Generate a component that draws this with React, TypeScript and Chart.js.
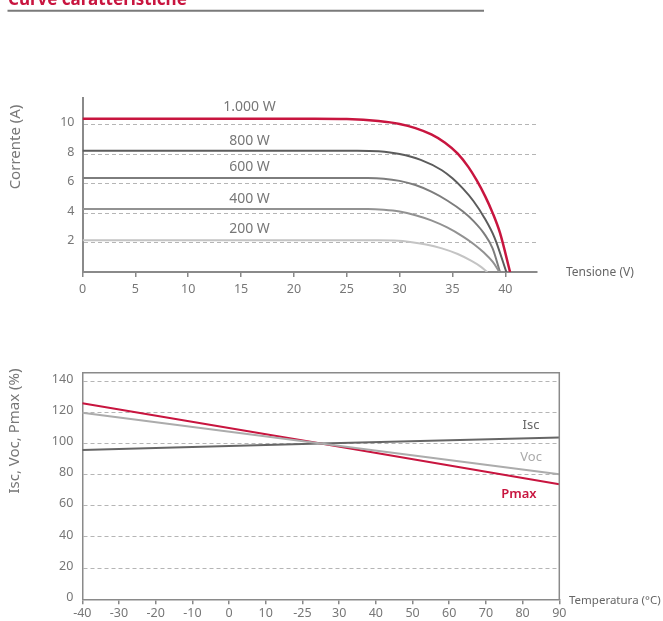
import React, { useEffect, useRef } from "react";
import { Chart, registerables } from "chart.js";

Chart.register(...registerables);

const FONT = "'Noto Sans', sans-serif";
const RED = "#c8153f";

// ---------- Top chart: I-V curves ----------
const ivNames = ["1.000 W", "800 W", "600 W", "400 W", "200 W"];

const v1000 = [0, 22, 25, 28, 30, 31.5, 33, 34.3, 35.5, 36.5, 37.3, 38.1, 38.8, 39.5, 40.45];
const i1000 = [10.39, 10.39, 10.37, 10.24, 10.04, 9.76, 9.33, 8.77, 8.03, 7.13, 6.21, 5.13, 4.01, 2.65, 0];

const v800 = [0, 22, 26, 28, 30, 32, 34, 35, 36, 37, 38, 39, 40.1];
const i800 = [8.23, 8.23, 8.23, 8.19, 8.0, 7.6, 6.9, 6.35, 5.65, 4.8, 3.7, 2.3, 0];

const v600 = [0, 22, 27, 28.5, 30, 31.5, 33, 34.5, 36, 37, 38, 38.8, 39.5];
const i600 = [6.37, 6.37, 6.37, 6.33, 6.18, 5.9, 5.45, 4.85, 4.1, 3.45, 2.6, 1.6, 0];

const v400 = [0, 22, 27, 28.5, 30, 31.5, 33, 34.5, 36, 37, 38, 38.8, 39.45];
const i400 = [4.27, 4.27, 4.27, 4.22, 4.1, 3.85, 3.5, 3.02, 2.4, 1.9, 1.3, 0.7, 0];

const v200 = [0, 22, 28, 29.5, 31, 32.5, 34, 35.5, 36.8, 37.6, 38.3];
const i200 = [2.16, 2.16, 2.16, 2.13, 2.04, 1.87, 1.6, 1.22, 0.75, 0.4, 0];

const ivXTicks = [0, 5, 10, 15, 20, 25, 30, 35, 40];
const ivYTicks = [2, 4, 6, 8, 10];

const ivLabelX = [15.8, 15.8, 15.8, 15.8, 15.8];
const ivLabelY = [11.16, 8.91, 7.14, 4.97, 2.93];

// ---------- Bottom chart: temperature ----------
const tempX = [-40, 25, 90];
const iscPct = [95.8, 100, 103.9];
const vocPct = [119.7, 100, 80.2];
const pmaxPct = [125.8, 100, 73.8];

const tempTicks = [-40, -30, -20, -10, 0, 10, 20, 30, 40, 50, 60, 70, 80, 90];
const tempTickLabels = ["-40", "-30", "-20", "-10", "0", "10", "-25", "30", "40", "50", "60", "70", "80", "90"];
const pctTicks = [0, 20, 40, 60, 80, 100, 120, 140];

const tempNames = ["Isc", "Voc", "Pmax"];
const tempLabelX = [82.3, 82.3, 79.0];
const tempLabelY = [111.8, 91.3, 67.6];

const pts = (xs: number[], ys: number[]) => xs.map((x, i) => ({ x, y: ys[i] }));

const topDecor = {
  id: "topDecor",
  afterDraw(chart: any) {
    const { ctx, scales } = chart;
    const x = scales.x;
    const y = scales.y;
    ctx.save();
    // heading (mostly cut off at the top)
    ctx.fillStyle = RED;
    ctx.font = `bold 17px ${FONT}`;
    ctx.textAlign = "left";
    ctx.textBaseline = "alphabetic";
    ctx.fillText("Curve caratteristiche", 8, 4.5);
    ctx.strokeStyle = "#7a7a7a";
    ctx.lineWidth = 2;
    ctx.beginPath();
    ctx.moveTo(7.5, 10.7);
    ctx.lineTo(484, 10.7);
    ctx.stroke();
    // series labels
    ctx.fillStyle = "#777";
    ctx.font = `14px ${FONT}`;
    ctx.textAlign = "center";
    ctx.textBaseline = "middle";
    ivNames.forEach((n, i) => {
      ctx.fillText(n, x.getPixelForValue(ivLabelX[i]), y.getPixelForValue(ivLabelY[i]));
    });
    // axis titles
    ctx.fillStyle = "#666";
    ctx.font = `12px ${FONT}`;
    ctx.textAlign = "left";
    ctx.fillText("Tensione (V)", 566, 273);
    ctx.save();
    ctx.translate(15.5, 147);
    ctx.rotate(-Math.PI / 2);
    ctx.textAlign = "center";
    ctx.font = `15px ${FONT}`;
    ctx.fillStyle = "#777";
    ctx.fillText("Corrente (A)", 0, 0);
    ctx.restore();
    ctx.restore();
  },
};

const bottomDecor = {
  id: "bottomDecor",
  afterDraw(chart: any) {
    const { ctx, scales, chartArea } = chart;
    const x = scales.x;
    const y = scales.y;
    ctx.save();
    // box top & right
    ctx.strokeStyle = "#8a8a8a";
    ctx.lineWidth = 1.5;
    ctx.beginPath();
    ctx.moveTo(chartArea.left, chartArea.top);
    ctx.lineTo(chartArea.right, chartArea.top);
    ctx.lineTo(chartArea.right, chartArea.bottom);
    ctx.stroke();
    // series labels
    const colors = ["#666", "#aaa", RED];
    ctx.textAlign = "center";
    ctx.textBaseline = "middle";
    tempNames.forEach((n, i) => {
      ctx.fillStyle = colors[i];
      ctx.font = `${i === 2 ? "600 " : ""}13px ${FONT}`;
      ctx.fillText(n, x.getPixelForValue(tempLabelX[i]), y.getPixelForValue(tempLabelY[i]));
    });
    // axis titles
    ctx.fillStyle = "#666";
    ctx.font = `11.5px ${FONT}`;
    ctx.textAlign = "left";
    ctx.fillText("Temperatura (°C)", 569, 300.7);
    ctx.save();
    ctx.translate(15, 131);
    ctx.rotate(-Math.PI / 2);
    ctx.textAlign = "center";
    ctx.font = `15px ${FONT}`;
    ctx.fillStyle = "#777";
    ctx.fillText("Isc, Voc, Pmax (%)", 0, 0);
    ctx.restore();
    ctx.restore();
  },
};

export default function App() {
  const topRef = useRef<HTMLCanvasElement>(null);
  const botRef = useRef<HTMLCanvasElement>(null);

  useEffect(() => {
    Chart.defaults.font.family = FONT;
    const ivCurves = [
      { label: "200 W", data: pts(v200, i200), borderColor: "#c4c4c4", borderWidth: 2 },
      { label: "400 W", data: pts(v400, i400), borderColor: "#929292", borderWidth: 2 },
      { label: "600 W", data: pts(v600, i600), borderColor: "#7d7d7d", borderWidth: 2 },
      { label: "800 W", data: pts(v800, i800), borderColor: "#5c5c5c", borderWidth: 2 },
      { label: "1.000 W", data: pts(v1000, i1000), borderColor: RED, borderWidth: 2.5 },
    ];
    const top = new Chart(topRef.current!, {
      type: "line",
      data: {
        datasets: ivCurves.map((d) => ({
          ...d,
          pointRadius: 0,
          fill: false,
          cubicInterpolationMode: "monotone" as const,
        })),
      },
      options: {
        animation: false,
        responsive: false,
        events: [],
        layout: { padding: { top: 98, left: 0, right: 126, bottom: 0 } },
        plugins: { legend: { display: false }, tooltip: { enabled: false } },
        scales: {
          x: {
            type: "linear",
            min: 0,
            max: 43,
            afterBuildTicks: (s: any) => {
              s.ticks = ivXTicks.map((v) => ({ value: v }));
            },
            afterFit: (s: any) => {
              s.height = 28;
            },
            grid: { drawOnChartArea: false, drawTicks: true, tickLength: 5, color: "#888", lineWidth: 1.5 },
            border: { color: "#8a8a8a", width: 2 },
            ticks: { color: "#777", font: { size: 12.5 }, padding: 5, maxRotation: 0, autoSkip: false },
          },
          y: {
            type: "linear",
            min: 0,
            max: 11.8,
            afterBuildTicks: (s: any) => {
              s.ticks = ivYTicks.map((v) => ({ value: v }));
            },
            afterFit: (s: any) => {
              s.width = 82.5;
            },
            grid: { color: "#b5b5b5", lineWidth: 1, drawTicks: false },
            border: { color: "#8a8a8a", width: 2, dash: [4, 3] },
            ticks: { color: "#777", font: { size: 12.5 }, padding: 8, labelOffset: -2 },
          },
        },
      },
      plugins: [topDecor],
    });

    const tempSeries = [
      { label: "Voc", data: pts(tempX, vocPct), borderColor: "#acacac", borderWidth: 2 },
      { label: "Isc", data: pts(tempX, iscPct), borderColor: "#666", borderWidth: 2 },
      { label: "Pmax", data: pts(tempX, pmaxPct), borderColor: RED, borderWidth: 2 },
    ];
    const bot = new Chart(botRef.current!, {
      type: "line",
      data: {
        datasets: tempSeries.map((d) => ({ ...d, pointRadius: 0, fill: false, tension: 0 })),
      },
      options: {
        animation: false,
        responsive: false,
        events: [],
        layout: { padding: { top: 72.7, left: 0, right: 103.7, bottom: 0 } },
        plugins: { legend: { display: false }, tooltip: { enabled: false } },
        scales: {
          x: {
            type: "linear",
            min: -40,
            max: 90,
            afterBuildTicks: (s: any) => {
              s.ticks = tempTicks.map((v) => ({ value: v }));
            },
            afterFit: (s: any) => {
              s.height = 21.7;
            },
            grid: { drawOnChartArea: false, drawTicks: true, tickLength: 5, color: "#888", lineWidth: 1.5 },
            border: { color: "#8a8a8a", width: 1.5 },
            ticks: {
              color: "#777",
              font: { size: 12.5 },
              padding: 2,
              maxRotation: 0,
              autoSkip: false,
              callback: (_v: any, i: number) => tempTickLabels[i],
            },
          },
          y: {
            type: "linear",
            min: 0,
            max: 145.4,
            afterBuildTicks: (s: any) => {
              s.ticks = pctTicks.map((v) => ({ value: v }));
            },
            afterFit: (s: any) => {
              s.width = 82.3;
            },
            grid: {
              color: (c: any) => (c.tick && c.tick.value === 0 ? "rgba(0,0,0,0)" : "#b5b5b5"),
              lineWidth: 1,
              drawTicks: false,
            },
            border: { color: "#8a8a8a", width: 1.5, dash: [4, 3] },
            ticks: { color: "#777", font: { size: 12.5 }, padding: 9, labelOffset: -2 },
          },
        },
      },
      plugins: [bottomDecor],
    });

    return () => {
      top.destroy();
      bot.destroy();
    };
  }, []);

  return (
    <div style={{ position: "absolute", left: 0, top: 0, width: 663, height: 621, background: "#fff" }}>
      <canvas
        ref={topRef}
        width={663}
        height={300}
        style={{ position: "absolute", left: 0, top: 0, width: 663, height: 300 }}
      />
      <canvas
        ref={botRef}
        width={663}
        height={321}
        style={{ position: "absolute", left: 0, top: 300, width: 663, height: 321 }}
      />
    </div>
  );
}
